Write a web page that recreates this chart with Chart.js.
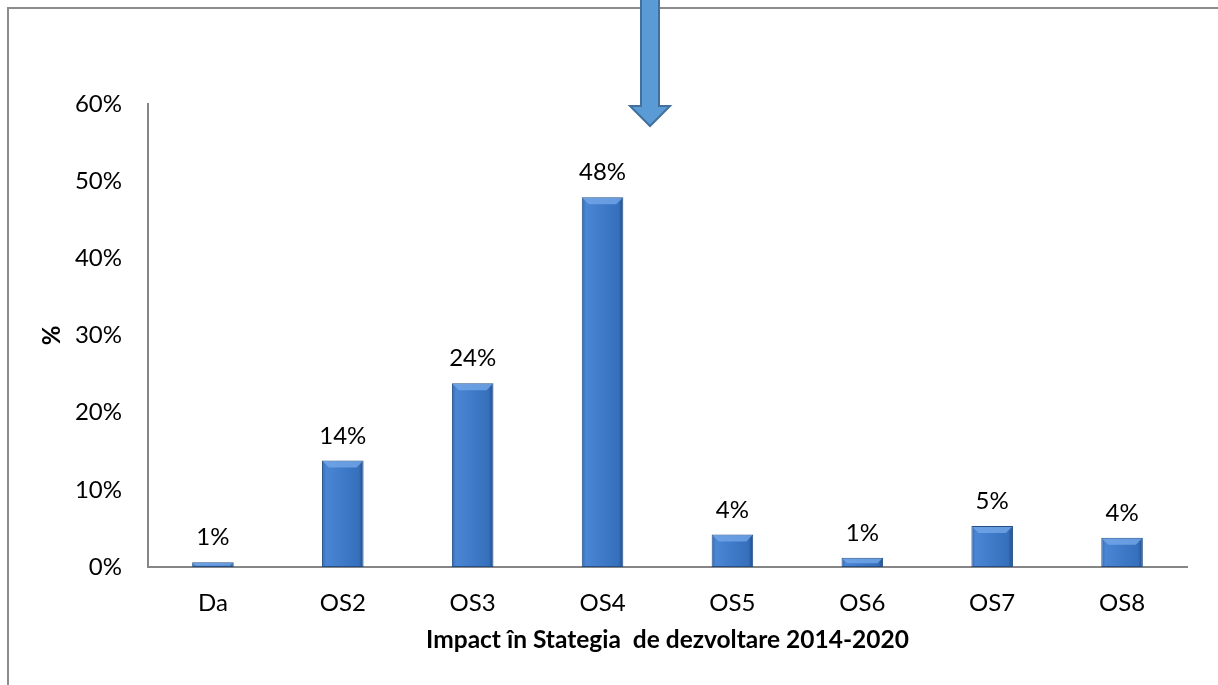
<!DOCTYPE html>
<html>
<head>
<meta charset="utf-8">
<script src="https://cdn.jsdelivr.net/npm/chart.js@4"></script>
<style>
  html, body { margin: 0; padding: 0; background: #fff; }
  #wrap { width: 1218px; height: 685px; }
</style>
</head>
<body>
<div id="wrap"><canvas id="impactChart" width="1218" height="685"></canvas></div>
<script>
const categories = ["Da", "OS2", "OS3", "OS4", "OS5", "OS6", "OS7", "OS8"];
const percentValues = [0.6, 13.8, 23.8, 47.9, 4.2, 1.2, 5.3, 3.8];
const yTicks = [0, 10, 20, 30, 40, 50, 60];
const xTitle = "Impact în Stategia  de dezvoltare 2014-2020";
const yTitle = "%";

const FONT = "Lato, 'Open Sans', sans-serif";

// gradient orizontal pentru fiecare bara
function barGradient(context) {
  const chart = context.chart;
  if (!chart.chartArea) return "#3d78c5";
  const x = chart.scales.x.getPixelForValue(context.dataIndex);
  const half = 21;
  const g = chart.ctx.createLinearGradient(x - half, 0, x + half, 0);
  g.addColorStop(0, "#3266ad");
  g.addColorStop(0.1, "#4a86d3");
  g.addColorStop(0.5, "#3e7ac7");
  g.addColorStop(0.88, "#3670bd");
  g.addColorStop(1, "#1f4a85");
  return g;
}

// biseau deasupra barelor + etichete
const valueLabels = {
  id: "valueLabels",
  afterDatasetsDraw(chart) {
    const ctx = chart.ctx;
    const meta = chart.getDatasetMeta(0);
    ctx.save();
    meta.data.forEach((bar) => {
      const left = bar.x - bar.width / 2 + 1;
      const right = bar.x + bar.width / 2 - 1;
      const top = bar.y + 1;
      const d = Math.min(6, (bar.base - bar.y) / 2);
      ctx.fillStyle = "rgba(120,170,235,0.75)";
      ctx.beginPath();
      ctx.moveTo(left, top);
      ctx.lineTo(right, top);
      ctx.lineTo(right - d, top + d);
      ctx.lineTo(left + d, top + d);
      ctx.closePath();
      ctx.fill();
    });
    ctx.font = "24px " + FONT;
    ctx.fillStyle = "#000";
    ctx.textAlign = "center";
    ctx.textBaseline = "alphabetic";
    meta.data.forEach((bar, i) => {
      ctx.fillText(Math.round(percentValues[i]) + "%", bar.x, bar.y - 17);
    });
    ctx.restore();
  },
};

// chenarul si sageata
const frameAndArrow = {
  id: "frameAndArrow",
  afterDraw(chart) {
    const ctx = chart.ctx;
    ctx.save();
    ctx.strokeStyle = "#8c8c8c";
    ctx.lineWidth = 2;
    ctx.beginPath();
    ctx.moveTo(8, 685);
    ctx.lineTo(8, 8);
    ctx.lineTo(1218, 8);
    ctx.stroke();

    ctx.fillStyle = "#5b9bd5";
    ctx.strokeStyle = "#41719c";
    ctx.lineWidth = 2;
    ctx.beginPath();
    ctx.moveTo(641, -2);
    ctx.lineTo(659, -2);
    ctx.lineTo(659, 106);
    ctx.lineTo(670, 106);
    ctx.lineTo(650, 126);
    ctx.lineTo(630, 106);
    ctx.lineTo(641, 106);
    ctx.closePath();
    ctx.fill();
    ctx.stroke();
    ctx.restore();
  },
};

const ctx = document.getElementById("impactChart").getContext("2d");
new Chart(ctx, {
  type: "bar",
  data: {
    labels: categories,
    datasets: [
      {
        label: "%",
        data: percentValues,
        backgroundColor: barGradient,
        borderColor: "#234f86",
        borderWidth: 1,
        borderSkipped: false,
        categoryPercentage: 1,
        barPercentage: 0.32,
      },
    ],
  },
  options: {
    responsive: false,
    animation: false,
    layout: { padding: { top: 104, right: 31, bottom: 0, left: 0 } },
    plugins: {
      legend: { display: false },
      tooltip: { enabled: false },
    },
    scales: {
      x: {
        grid: { display: false, drawTicks: false },
        border: { display: true, color: "#868686", width: 2 },
        ticks: {
          color: "#000",
          font: { family: FONT, size: 24 },
          padding: 22,
          maxRotation: 0,
        },
        title: {
          display: true,
          text: xTitle,
          color: "#000",
          font: { family: FONT, size: 24.5, weight: "bold" },
          padding: { top: 0, bottom: 30 },
        },
        afterFit(scale) {
          scale.height = 118;
        },
      },
      y: {
        min: 0,
        max: 60,
        afterBuildTicks(scale) {
          scale.ticks = yTicks.map((v) => ({ value: v }));
        },
        grid: { display: false, drawTicks: false },
        border: { display: true, color: "#868686", width: 2 },
        ticks: {
          color: "#000",
          font: { family: FONT, size: 24 },
          padding: 26,
          callback: (v) => v + "%",
        },
        title: {
          display: true,
          text: yTitle,
          color: "#000",
          font: { family: FONT, size: 24, weight: "bold" },
          padding: { top: 38, bottom: 0 },
        },
        afterFit(scale) {
          scale.width = 148;
        },
      },
    },
  },
  plugins: [valueLabels, frameAndArrow],
});
</script>
</body>
</html>
